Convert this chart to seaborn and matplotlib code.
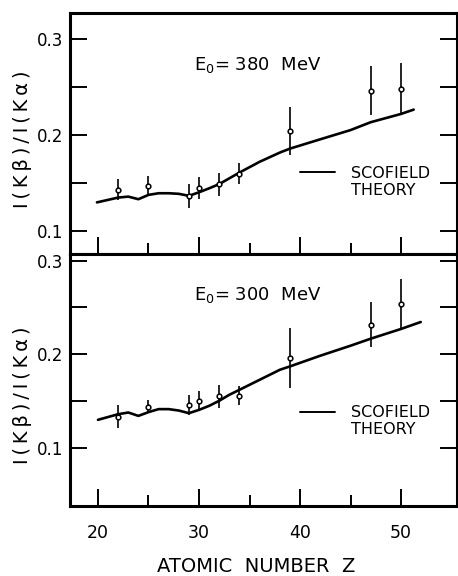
import matplotlib
matplotlib.use("Agg")
import matplotlib.pyplot as plt
import seaborn as sns
import pandas as pd
from matplotlib.ticker import FixedLocator
from matplotlib.lines import Line2D

# measured points (same Z for both beam energies)
z_pts = [22, 25, 29, 30, 32, 34, 39, 47, 50]

ratio_380 = [0.143, 0.147, 0.137, 0.145, 0.149, 0.160, 0.204, 0.246, 0.248]
err_380 = [0.011, 0.010, 0.0125, 0.0115, 0.012, 0.011, 0.025, 0.0255, 0.027]

ratio_300 = [0.1335, 0.144, 0.146, 0.150, 0.155, 0.1556, 0.196, 0.2314, 0.2539]
err_300 = [0.012, 0.007, 0.011, 0.011, 0.012, 0.010, 0.032, 0.024, 0.026]

# Scofield theory curves
z_theory_380 = [19.9, 22, 23, 24, 25, 26, 27, 28, 29, 30, 31, 32, 33, 34, 36, 38, 39, 42, 45, 47, 50, 51.25]
theory_380 = [0.130, 0.135, 0.136, 0.1333, 0.1378, 0.1395, 0.1395, 0.1389, 0.1368, 0.1405, 0.1446,
              0.149, 0.155, 0.161, 0.1722, 0.1818, 0.1859, 0.1956, 0.2052, 0.2134, 0.222, 0.2265]

z_theory_300 = [20.0, 22, 23, 24, 25, 26, 27, 28, 29, 30, 31, 32, 33, 34, 36, 38, 39, 42, 45, 47, 50, 51.95]
theory_300 = [0.130, 0.136, 0.1378, 0.1342, 0.1382, 0.1414, 0.1414, 0.1399, 0.1371, 0.1406, 0.1449,
              0.1503, 0.1567, 0.162, 0.1727, 0.1834, 0.187, 0.1984, 0.2091, 0.2166, 0.227, 0.2344]

panels = [
    ("380", ratio_380, err_380, z_theory_380, theory_380, (0.0763, 0.327)),
    ("300", ratio_300, err_300, z_theory_300, theory_300, (0.038, 0.307)),
]

sns.set_style("white")
plt.rcParams["font.family"] = ["DejaVu Sans"]
for key in ["text.color", "axes.labelcolor", "xtick.color", "ytick.color", "axes.edgecolor"]:
    plt.rcParams[key] = "black"

fig = plt.figure(figsize=(4.58, 5.76), dpi=100)
ax_top = fig.add_axes([70 / 458, 1 - 254 / 576, 387 / 458, 241 / 576])
ax_bot = fig.add_axes([70 / 458, 1 - 506 / 576, 387 / 458, 252 / 576])

# where each panel's text sits (axes fractions)
e0_pos = [(0.320, 0.784), (0.320, 0.837)]
leg_pos = [(0.594, 0.365), (0.594, 0.400)]
ylab_y = [0.477, 0.44]
ts = "\u2009"
ylabel = ts.join("I(Kβ)/I(Kα)")

for i, (ax, (energy, vals, errs, zt, th, ylim)) in enumerate(zip([ax_top, ax_bot], panels)):
    df_th = pd.DataFrame({"Z": zt, "ratio": th})
    sns.lineplot(data=df_th, x="Z", y="ratio", ax=ax, color="black", lw=1.9,
                 sort=False, label="SCOFIELD")
    ax.errorbar(z_pts, vals, yerr=errs, fmt="o", color="black", ms=3.4,
                mfc="white", mec="black", mew=1.1, elinewidth=1.2, capsize=0, zorder=3)

    ax.set_xlim(17.23, 55.54)
    ax.set_ylim(*ylim)

    ax.yaxis.set_major_locator(FixedLocator([0.1, 0.15, 0.2, 0.25, 0.3]))
    ax.set_yticklabels(["0.1", "", "0.2", "", "0.3"])
    ax.xaxis.set_major_locator(FixedLocator([20, 30, 40, 50]))
    ax.xaxis.set_minor_locator(FixedLocator([25, 35, 45]))

    ax.tick_params(axis="y", which="major", direction="in", left=True, right=True,
                   length=12.5, width=1.4, labelsize=12, pad=5, color="black")
    ax.tick_params(axis="x", which="major", direction="in", bottom=True, top=False,
                   length=12, width=1.4, labelsize=12.5, pad=13, color="black")
    ax.tick_params(axis="x", which="minor", direction="in", bottom=True, top=False,
                   length=8, width=1.4, color="black")

    for sp in ax.spines.values():
        sp.set_linewidth(2.2)
        sp.set_color("black")

    ax.text(e0_pos[i][0], e0_pos[i][1], r"$\mathrm{E}_0$= " + energy + "  MeV",
            transform=ax.transAxes, fontsize=13, va="center", ha="left")

    handles = [Line2D([], [], color="black", lw=1.4), Line2D([], [], color="none")]
    ax.legend(handles, ["SCOFIELD", "THEORY"], loc="upper left",
              bbox_to_anchor=leg_pos[i], frameon=False, fontsize=11.5,
              handlelength=2.2, handletextpad=1.0, borderpad=0, borderaxespad=0,
              labelspacing=0.1)

    ax.set_ylabel(ylabel, fontsize=14)
    ax.yaxis.set_label_coords(-0.099, ylab_y[i])

ax_top.set_xlabel("")
ax_top.tick_params(axis="x", labelbottom=False)
ax_bot.set_xlabel("ATOMIC  NUMBER  Z", fontsize=14)
ax_bot.xaxis.set_label_coords(0.48, -0.2758)
ax_bot.xaxis.label.set_va("bottom")

fig.savefig("out.png", dpi=100)
